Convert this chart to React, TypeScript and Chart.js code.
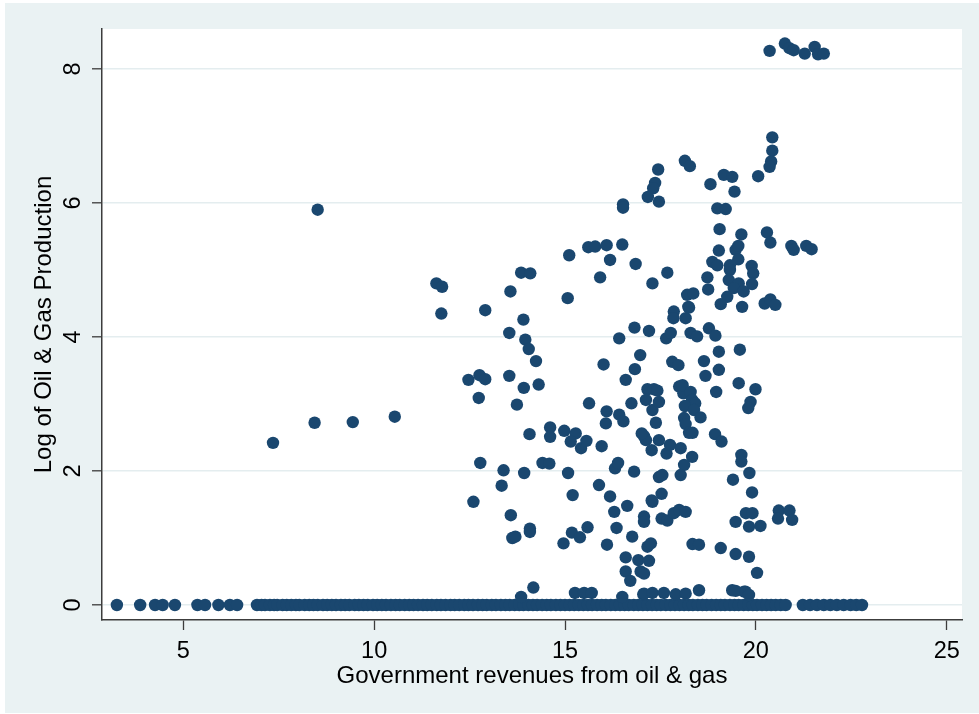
import React, { useEffect, useRef } from "react";
import { Chart, registerables } from "chart.js";

Chart.register(...registerables);

const xTitle = "Government revenues from oil & gas";
const yTitle = "Log of Oil & Gas Production";
const xTicks = [5, 10, 15, 20, 25];
const yTicks = [0, 2, 4, 6, 8];
const xRange = [2.87, 25.4];
const yRange = [-0.224, 8.597];

// Country-years with no oil & gas production (log production = 0)
const zeroProducers = [
  3.26, 3.87, 4.26, 4.46, 4.78, 5.37, 5.57, 5.92, 6.22, 6.41,
  6.93, 7.05, 7.14, 7.27, 7.38, 7.46, 7.6, 7.71, 7.83, 7.95, 8.04, 8.18, 8.3, 8.41,
  8.52, 8.66, 8.77, 8.89, 9.0, 9.13, 9.24, 9.35, 9.49, 9.6, 9.72, 9.83, 9.97, 10.08,
  10.2, 10.31, 10.44, 10.56, 10.67, 10.8, 10.92, 11.03, 11.15, 11.28, 11.39, 11.51,
  11.64, 11.75, 11.87, 12.0, 12.11, 12.23, 12.36, 12.47, 12.59, 12.72, 12.84, 12.95,
  13.08, 13.19, 13.32, 13.44, 13.55, 13.68, 13.8, 13.91, 14.04, 14.16, 14.27, 14.4,
  14.52, 14.63, 14.76, 14.88, 15.0, 15.12, 15.24, 15.36, 15.48, 15.6, 15.71, 15.84,
  15.96, 16.07, 16.2, 16.32, 16.44, 16.56, 16.67, 16.8, 16.92, 17.04, 17.16, 17.28,
  17.4, 17.51, 17.64, 17.76, 17.88, 18.0, 18.12, 18.24, 18.35, 18.48, 18.6, 18.71,
  18.84, 18.96, 19.08, 19.19, 19.32, 19.44, 19.55, 19.68, 19.8, 19.92, 20.03, 20.16,
  20.28, 20.4, 20.52, 20.65, 20.78,
  21.23, 21.42, 21.6, 21.78, 21.95, 22.12, 22.3, 22.48, 22.63, 22.78,
];

// Producers: [government revenues, log of oil & gas production]
const producers: [number, number][] = [
  [7.35, 2.42], [8.52, 5.9], [8.44, 2.72], [9.44, 2.73], [10.54, 2.81],
  [11.63, 4.8], [11.78, 4.75], [11.76, 4.35],
  [12.91, 4.4], [13.57, 4.68], [13.85, 4.96], [14.09, 4.95], [13.91, 4.26], [13.54, 4.06],
  [13.96, 3.96], [14.05, 3.82], [14.24, 3.64],
  [12.47, 3.36], [12.76, 3.43], [12.91, 3.37], [12.74, 3.09], [13.54, 3.42], [13.92, 3.24],
  [14.31, 3.29], [13.74, 2.99],
  [15.11, 5.22], [15.61, 5.34], [15.79, 5.35], [16.09, 5.37], [16.5, 5.38], [16.18, 5.15],
  [16.85, 5.09], [15.92, 4.89], [17.29, 4.8], [15.07, 4.58],
  [16.82, 4.14], [17.2, 4.09], [16.42, 3.98], [16.97, 3.73], [16.01, 3.59], [16.83, 3.52],
  [16.59, 3.36], [17.16, 3.22],
  [15.63, 3.01], [16.74, 3.01], [16.09, 2.89], [16.42, 2.84], [16.07, 2.71], [16.53, 2.74],
  [14.07, 2.55], [14.61, 2.65], [14.61, 2.51], [14.98, 2.6], [15.28, 2.56], [15.15, 2.44],
  [15.42, 2.34], [15.56, 2.45], [15.96, 2.37],
  [12.78, 2.12], [13.39, 2.01], [13.34, 1.78], [13.93, 1.97], [14.41, 2.12], [14.59, 2.11],
  [15.08, 1.97],
  [12.6, 1.54], [15.2, 1.64], [15.89, 1.79], [16.18, 1.62], [16.31, 2.04], [16.39, 2.12],
  [16.81, 1.99], [16.29, 1.39], [16.63, 1.48],
  [13.58, 1.34], [13.62, 1.0], [13.7, 1.02], [14.08, 1.14], [14.08, 1.09], [14.96, 0.92],
  [15.18, 1.08], [15.39, 1.01], [15.59, 1.16], [16.35, 1.15], [16.76, 1.02], [16.1, 0.9],
  [16.59, 0.71], [16.92, 0.67], [16.59, 0.5], [16.71, 0.36], [16.98, 0.5], [17.2, 0.66],
  [14.17, 0.26], [13.85, 0.12], [15.26, 0.18], [15.5, 0.18], [15.7, 0.18], [16.5, 0.12],
  [17.05, 0.16],
  [17.33, 3.22], [17.12, 3.06], [17.29, 2.91], [17.07, 2.52], [17.12, 2.46], [17.27, 2.31],
  [17.29, 1.54], [17.07, 1.32], [17.07, 1.24], [17.16, 0.87], [17.25, 0.92], [17.07, 0.47],
  [20.36, 8.27], [20.76, 8.38], [20.88, 8.31], [20.99, 8.28], [21.28, 8.23], [21.54, 8.33],
  [21.63, 8.22], [21.78, 8.23],
  [20.43, 6.98], [20.43, 6.78], [20.4, 6.62], [20.36, 6.54], [20.06, 6.4],
  [18.14, 6.63], [18.27, 6.55], [17.44, 6.5], [17.36, 6.3], [17.31, 6.22], [17.17, 6.09],
  [17.46, 6.02], [16.52, 5.98], [16.52, 5.93],
  [19.16, 6.42], [19.38, 6.39], [18.81, 6.28], [19.44, 6.17], [18.99, 5.92], [19.21, 5.91],
  [19.05, 5.61], [19.62, 5.53], [20.29, 5.56], [20.38, 5.41], [20.93, 5.36], [20.99, 5.3],
  [21.32, 5.36], [21.46, 5.31],
  [17.68, 4.96], [19.03, 5.29], [19.47, 5.3], [19.54, 5.36], [19.54, 5.16], [18.86, 5.12],
  [18.99, 5.07], [19.32, 5.07], [19.32, 5.0], [19.89, 5.06], [19.93, 4.95], [19.9, 4.79],
  [18.73, 4.89], [18.75, 4.71], [19.29, 4.85], [19.55, 4.8], [19.42, 4.73], [19.68, 4.68],
  [19.25, 4.6], [18.2, 4.63], [18.36, 4.65], [18.23, 4.45], [17.85, 4.38], [19.08, 4.49],
  [19.64, 4.45], [20.23, 4.5], [20.38, 4.56], [20.51, 4.48],
  [17.65, 3.98], [17.77, 4.06], [17.84, 4.28], [18.16, 4.28], [18.25, 4.44], [18.29, 4.06],
  [18.46, 4.01], [18.77, 4.13], [18.94, 4.02],
  [17.81, 3.63], [17.97, 3.58], [18.64, 3.64], [19.03, 3.78], [19.03, 3.51], [19.58, 3.81],
  [18.68, 3.42], [18.96, 3.18], [19.55, 3.31], [19.99, 3.22], [19.86, 3.03], [19.8, 2.94],
  [17.42, 3.2], [17.46, 3.03], [17.38, 2.72],
  [17.99, 3.26], [18.1, 3.16], [18.08, 3.28], [18.29, 3.18], [18.33, 3.06], [18.41, 3.01],
  [18.14, 2.97], [18.38, 2.91], [18.55, 2.8], [18.12, 2.79], [18.16, 2.7], [18.25, 2.57],
  [18.34, 2.57],
  [17.01, 2.56], [17.46, 2.46], [17.66, 2.26], [17.75, 2.39], [18.03, 2.34],
  [18.93, 2.55], [19.1, 2.44], [19.62, 2.24], [19.62, 2.14], [19.83, 1.97], [19.4, 1.87],
  [19.9, 1.68],
  [18.33, 2.21], [18.12, 2.09], [18.03, 1.94], [17.46, 1.91], [17.55, 1.94], [17.53, 1.66],
  [17.27, 1.56],
  [17.53, 1.29], [17.68, 1.26], [17.85, 1.37], [17.99, 1.42], [18.16, 1.39],
  [18.34, 0.91], [18.51, 0.9], [19.08, 0.85], [19.47, 0.76], [19.82, 0.72], [20.03, 0.48],
  [20.6, 1.41], [20.58, 1.29], [20.88, 1.41], [20.95, 1.27], [19.47, 1.24], [19.74, 1.37],
  [19.91, 1.37], [19.82, 1.17], [20.12, 1.18],
  [18.51, 0.22], [19.38, 0.22], [19.69, 0.2], [17.07, 0.17], [17.29, 0.18], [17.59, 0.18],
  [17.9, 0.16], [18.16, 0.17], [19.47, 0.21], [19.73, 0.2], [19.82, 0.15],
];

const NAVY = "#1a476f";
const BLUISH = "#eaf2f3";
const AXIS = "#3c3c3c";
const FONT = "'Liberation Sans', Arial, Helvetica, sans-serif";

// Stata-like frame: bluish-gray outer region, white plot region, rotated y labels
const stataFrame = {
  id: "stataFrame",
  beforeDraw(chart: any) {
    const { ctx, chartArea: a, width, height } = chart;
    ctx.save();
    ctx.fillStyle = "#ffffff";
    ctx.fillRect(0, 0, width, height);
    ctx.fillStyle = BLUISH;
    ctx.fillRect(5, 3, width - 5, height - 4);
    ctx.fillStyle = "#ffffff";
    ctx.fillRect(a.left, a.top, a.right - a.left, a.bottom - a.top);
    ctx.restore();
  },
  afterDraw(chart: any) {
    const { ctx, chartArea: a, scales } = chart;
    const xs = scales.x;
    const ys = scales.y;
    ctx.save();
    ctx.fillStyle = "#000000";
    ctx.textAlign = "center";
    ctx.textBaseline = "alphabetic";
    ctx.font = `23.5px ${FONT}`;
    for (const v of xTicks) {
      ctx.fillText(String(v), xs.getPixelForValue(v), 658);
    }
    for (const v of yTicks) {
      ctx.save();
      ctx.translate(80, ys.getPixelForValue(v));
      ctx.rotate(-Math.PI / 2);
      ctx.fillText(String(v), 0, 0);
      ctx.restore();
    }
    ctx.font = `24px ${FONT}`;
    ctx.fillText(xTitle, (a.left + a.right) / 2, 683);
    ctx.save();
    ctx.translate(51, (a.top + a.bottom) / 2);
    ctx.rotate(-Math.PI / 2);
    ctx.fillText(yTitle, 0, 0);
    ctx.restore();
    ctx.restore();
  },
};

export default function App() {
  const canvasRef = useRef<HTMLCanvasElement | null>(null);

  useEffect(() => {
    const canvas = canvasRef.current;
    if (!canvas) return;
    const points = [
      ...zeroProducers.map((x) => ({ x, y: 0 })),
      ...producers.map(([x, y]) => ({ x, y })),
    ];
    const chart = new Chart(canvas, {
      type: "scatter",
      data: {
        datasets: [
          {
            data: points,
            backgroundColor: NAVY,
            borderColor: NAVY,
            borderWidth: 0,
            pointRadius: 6.2,
            pointHoverRadius: 6.2,
          },
        ],
      },
      options: {
        animation: false,
        responsive: false,
        events: [],
        layout: { padding: { top: 29, right: 17, left: 0, bottom: 0 } },
        plugins: {
          legend: { display: false },
          tooltip: { enabled: false },
        },
        scales: {
          x: {
            type: "linear",
            min: xRange[0],
            max: xRange[1],
            afterBuildTicks: (s: any) => {
              s.ticks = xTicks.map((value) => ({ value }));
            },
            afterFit: (s: any) => {
              s.height = 94;
            },
            ticks: { display: false },
            grid: {
              display: true,
              drawOnChartArea: false,
              drawTicks: true,
              tickLength: 10,
              tickColor: AXIS,
              tickWidth: 1.3,
            },
            border: { display: true, color: AXIS, width: 1.5 },
          },
          y: {
            type: "linear",
            min: yRange[0],
            max: yRange[1],
            afterBuildTicks: (s: any) => {
              s.ticks = yTicks.map((value) => ({ value }));
            },
            afterFit: (s: any) => {
              s.width = 102;
            },
            ticks: { display: false },
            grid: {
              display: true,
              drawOnChartArea: true,
              color: "#e4edef",
              lineWidth: 1.6,
              drawTicks: true,
              tickLength: 10,
              tickColor: AXIS,
              tickWidth: 1.3,
            },
            border: { display: true, color: AXIS, width: 1.5 },
          },
        },
      },
      plugins: [stataFrame],
    } as any);
    return () => chart.destroy();
  }, []);

  return (
    <div style={{ position: "absolute", left: 0, top: 0, width: 979, height: 714 }}>
      <canvas ref={canvasRef} width={979} height={714} style={{ display: "block" }} />
    </div>
  );
}
